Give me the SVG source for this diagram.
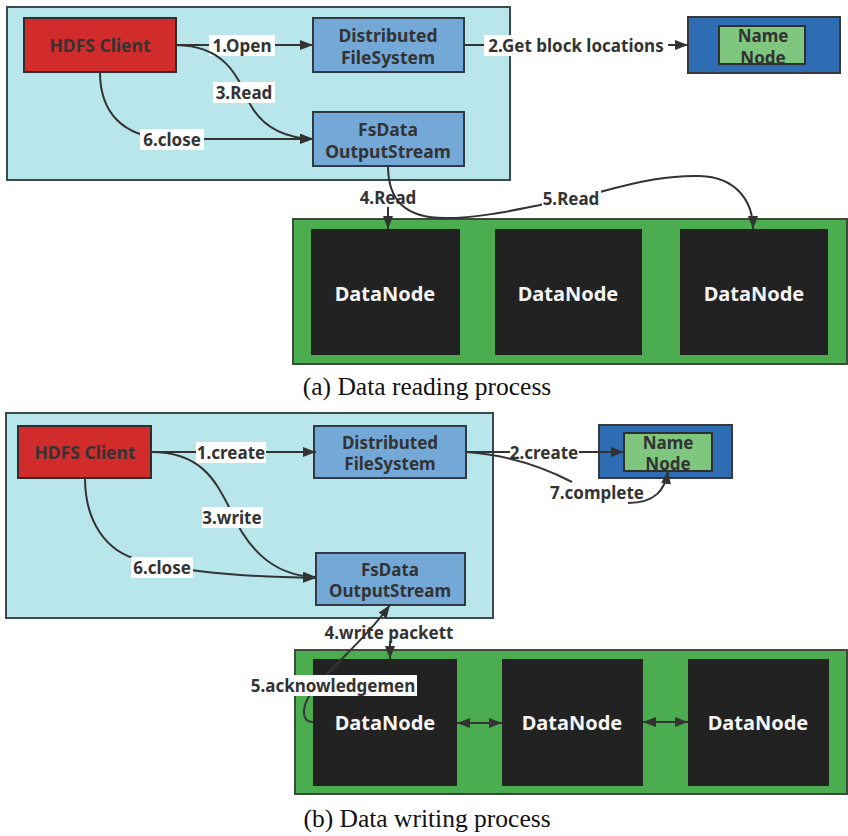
<svg xmlns="http://www.w3.org/2000/svg" width="848" height="836" viewBox="0 0 848 836">
  <style>
    .panel { fill: #b8e6eb; stroke: #3b4a4e; stroke-width: 2; }
    .client { fill: #d12b2b; stroke: #2f2f2f; stroke-width: 2; }
    .svc { fill: #74a8d6; stroke: #2f3a44; stroke-width: 2; }
    .nnOuter { fill: #2e6cb4; stroke: #3a3a3a; stroke-width: 2; }
    .nnInner { fill: #7fc67f; stroke: #2f2f2f; stroke-width: 2; }
    .pool { fill: #4bad50; stroke: #3d4a3e; stroke-width: 2; }
    .dn { fill: #222222; }
    .ntxt { font-family: "Noto Sans", "Open Sans", "DejaVu Sans", sans-serif; font-weight: bold; font-size: 17.5px; fill: #333333; text-anchor: middle; dominant-baseline: central; }
    .ntxt.sm { font-size: 17px; }
    .dtxt { font-family: "Noto Sans", "Open Sans", "DejaVu Sans", sans-serif; font-weight: bold; font-size: 20px; fill: #f4f4f4; text-anchor: middle; dominant-baseline: central; }
    .ltxt { font-family: "Noto Sans", "Open Sans", "DejaVu Sans", sans-serif; font-weight: bold; font-size: 17px; fill: #333333; text-anchor: middle; dominant-baseline: central; }
    .lbg { fill: #ffffff; }
    .cap { font-family: "Liberation Serif", "Times New Roman", serif; font-size: 25.5px; fill: #111111; text-anchor: middle; }
    .edge { fill: none; stroke: #333333; stroke-width: 2; }
  </style>
  <defs>
    <marker id="arr" viewBox="0 0 13 10" refX="13" refY="5" markerWidth="13" markerHeight="10" markerUnits="userSpaceOnUse" orient="auto-start-reverse">
      <path d="M0,0 L13,5 L0,10 Z" fill="#333333"/>
    </marker>
  </defs>

  <!-- (a) reading -->
  <g id="a-client-area"><rect class="panel" x="7" y="7" width="503" height="173"/></g>
  <g id="a-hdfs-client">
    <rect class="client" x="24" y="18" width="152" height="54"/>
    <text class="ntxt" x="100" y="45">HDFS Client</text>
  </g>
  <g id="a-dfs">
    <rect class="svc" x="313" y="18" width="151" height="54"/>
    <text class="ntxt" x="388" y="35">Distributed</text>
    <text class="ntxt" x="388" y="57">FileSystem</text>
  </g>
  <g id="a-fsdata">
    <rect class="svc" x="313" y="112" width="151" height="54"/>
    <text class="ntxt" x="388" y="129">FsData</text>
    <text class="ntxt" x="388" y="151">OutputStream</text>
  </g>
  <g id="a-namenode">
    <rect class="nnOuter" x="688" y="17" width="152" height="56"/>
    <rect class="nnInner" x="719" y="26" width="86" height="38"/>
    <text class="ntxt sm" x="763" y="35">Name</text>
    <text class="ntxt sm" x="763" y="57">Node</text>
  </g>
  <g id="a-datanodes">
    <rect class="pool" x="293" y="219" width="554" height="145"/>
    <g id="a-dn1"><rect class="dn" x="311" y="229" width="149" height="126"/><text class="dtxt" x="385" y="293">DataNode</text></g>
    <g id="a-dn2"><rect class="dn" x="495" y="229" width="147" height="126"/><text class="dtxt" x="568" y="293">DataNode</text></g>
    <g id="a-dn3"><rect class="dn" x="680" y="229" width="148" height="126"/><text class="dtxt" x="754" y="293">DataNode</text></g>
  </g>

  <g id="a-connectors">
    <path class="edge" d="M176,45 L313,45" marker-end="url(#arr)"/>
    <rect class="lbg" x="209" y="35" width="66" height="21"/>
    <text class="ltxt" x="242" y="45">1.Open</text>

    <path class="edge" d="M464,45 L688,45" marker-end="url(#arr)"/>
    <rect class="lbg" x="484" y="35" width="184" height="21"/>
    <text class="ltxt" x="576" y="45">2.Get block locations</text>

    <path class="edge" d="M176,45 C225,46 237,75 250,104 C263,128 285,138 313,139" marker-end="url(#arr)"/>
    <rect class="lbg" x="213" y="82" width="62" height="21"/>
    <text class="ltxt" x="244" y="92">3.Read</text>

    <path class="edge" d="M100,72 C100,112 122,137 168,139 L313,139" marker-end="url(#arr)"/>
    <rect class="lbg" x="140" y="129" width="64" height="21"/>
    <text class="ltxt" x="172" y="139">6.close</text>

    <text class="ltxt" x="388" y="197">4.Read</text>
    <path class="edge" d="M388,207 L388,229" marker-end="url(#arr)"/>

    <path class="edge" d="M388,166 C388,200 405,218 445,218 C480,218 515,210 545,204 L600,192 C640,181 670,175 700,176 C735,177 753,200 753,229" marker-end="url(#arr)"/>
    <rect class="lbg" x="542" y="188" width="59" height="20"/>
    <text class="ltxt" x="571" y="198">5.Read</text>
  </g>

  <text class="cap" x="427" y="395">(a) Data reading process</text>

  <!-- (b) writing -->
  <g id="b-client-area"><rect class="panel" x="6" y="413" width="487" height="205"/></g>
  <g id="b-hdfs-client">
    <rect class="client" x="18" y="426" width="133" height="52"/>
    <text class="ntxt" x="85" y="452">HDFS Client</text>
  </g>
  <g id="b-dfs">
    <rect class="svc" x="314" y="426" width="152" height="52"/>
    <text class="ntxt sm" x="390" y="442">Distributed</text>
    <text class="ntxt sm" x="390" y="463">FileSystem</text>
  </g>
  <g id="b-fsdata">
    <rect class="svc" x="316" y="553" width="149" height="52"/>
    <text class="ntxt sm" x="390" y="569">FsData</text>
    <text class="ntxt sm" x="390" y="590">OutputStream</text>
  </g>
  <g id="b-namenode">
    <rect class="nnOuter" x="599" y="425" width="133" height="53"/>
    <rect class="nnInner" x="624" y="433" width="88" height="38"/>
    <text class="ntxt sm" x="668" y="442">Name</text>
    <text class="ntxt sm" x="668" y="463">Node</text>
  </g>
  <g id="b-datanodes">
    <rect class="pool" x="295" y="650" width="552" height="144"/>
    <g id="b-dn1"><rect class="dn" x="313" y="659" width="144" height="127"/><text class="dtxt" x="385" y="722">DataNode</text></g>
    <g id="b-dn2"><rect class="dn" x="502" y="659" width="141" height="127"/><text class="dtxt" x="572" y="722">DataNode</text></g>
    <g id="b-dn3"><rect class="dn" x="688" y="659" width="141" height="127"/><text class="dtxt" x="758" y="722">DataNode</text></g>
  </g>

  <g id="b-connectors">
    <path class="edge" d="M151,452 L316,452" marker-end="url(#arr)"/>
    <rect class="lbg" x="196" y="442" width="70" height="21"/>
    <text class="ltxt" x="231" y="452">1.create</text>

    <path class="edge" d="M466,452 L624,452" marker-end="url(#arr)"/>
    <rect class="lbg" x="510" y="442" width="69" height="21"/>
    <text class="ltxt" x="544" y="452">2.create</text>

    <path class="edge" d="M151,452 C200,452 215,480 228,505 C245,545 270,576 316,577" marker-end="url(#arr)"/>
    <rect class="lbg" x="202" y="507" width="61" height="21"/>
    <text class="ltxt" x="232" y="517">3.write</text>

    <path class="edge" d="M85,478 C85,520 105,552 140,560 C165,566 200,576 316,578" marker-end="url(#arr)"/>
    <rect class="lbg" x="131" y="557" width="62" height="21"/>
    <text class="ltxt" x="162" y="567">6.close</text>

    <path class="edge" d="M466,452 C510,455 545,468 572,482"/>
    <path class="edge" d="M628,503 C655,503 665,490 668,471" marker-end="url(#arr)"/>
    <text class="ltxt" x="597" y="492">7.complete</text>

    <text class="ltxt" x="389" y="632">4.write packett</text>
    <path class="edge" d="M390,641 L390,659" marker-end="url(#arr)"/>

    <path class="edge" d="M313,722 C300,722 302,705 312,692 C335,662 365,640 390,605" marker-end="url(#arr)"/>
    <rect class="lbg" x="250" y="675" width="167" height="21"/>
    <text class="ltxt" x="333" y="685">5.acknowledgemen</text>

    <path class="edge" d="M457,723 L502,723" marker-start="url(#arr)" marker-end="url(#arr)"/>
    <path class="edge" d="M643,722 L688,722" marker-start="url(#arr)" marker-end="url(#arr)"/>
  </g>

  <text class="cap" x="427" y="827">(b) Data writing process</text>
</svg>
